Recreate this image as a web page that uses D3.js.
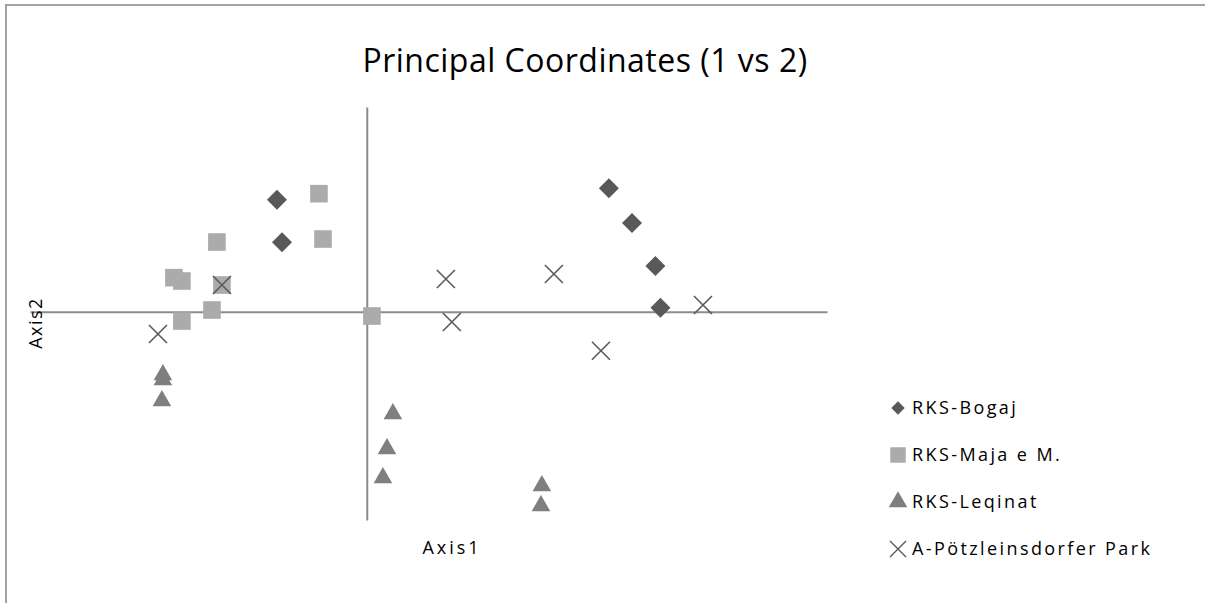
<!DOCTYPE html>
<html>
<head>
<meta charset="utf-8">
<script src="https://cdn.jsdelivr.net/npm/d3@7"></script>
<style>
  body { margin: 0; background: #fff; }
  text { font-family: "Open Sans", "DejaVu Sans", sans-serif; fill: #000; }
</style>
</head>
<body>
<script>
// waarden (as 1, as 2)
var bogajX = [-0.080, -0.0755, 0.2157, 0.2363, 0.2571, 0.2616];
var bogajY = [0.164, 0.102, 0.181, 0.130, 0.067, 0.006];

var majaX = [-0.0426, -0.039, -0.1335, -0.1718, -0.1647, -0.129, -0.1379, -0.1647, 0.0046];
var majaY = [0.173, 0.1066, 0.1022, 0.050, 0.0451, 0.0392, 0.0026, -0.0135, -0.0062];

var leqinatX = [-0.1816, -0.1816, -0.1825, 0.0233, 0.018, 0.0144, 0.156, 0.1552];
var leqinatY = [-0.0924, -0.0997, -0.1304, -0.1494, -0.2007, -0.2432, -0.2549, -0.2842];

var parkX = [-0.186, -0.129, 0.0705, 0.0758, 0.1667, 0.2086, 0.2995];
var parkY = [-0.0326, 0.0392, 0.048, -0.0149, 0.0554, -0.057, 0.01];

var seriesNames = ["RKS-Bogaj", "RKS-Maja e M.", "RKS-Leqinat", "A-Pötzleinsdorfer Park"];

var W = 1205, H = 603;
var margin = { top: 107, right: 378, bottom: 83, left: 30 },
    width = W - margin.left - margin.right,
    height = H - margin.top - margin.bottom;

var svg = d3.select("body").append("svg")
    .attr("width", W)
    .attr("height", H);

// kader rond de grafiek
svg.append("path")
    .attr("d", "M6," + H + "V5H" + W)
    .attr("fill", "none")
    .attr("stroke", "#a3a3a3")
    .attr("stroke-width", 2);

var g = svg.append("g")
    .attr("transform", "translate(" + margin.left + "," + margin.top + ")");

var x = d3.scaleLinear().domain([-0.3, 0.41]).range([0, width]);
var y = d3.scaleLinear().domain([-0.305, 0.3]).range([height, 0]);

// assen door de oorsprong, zonder tick labels
g.append("g")
    .attr("transform", "translate(0," + y(0) + ")")
    .call(d3.axisBottom(x).tickValues([]).tickSizeOuter(0))
    .select(".domain")
    .attr("stroke", "#8c8c8c")
    .attr("stroke-width", 2);

g.append("g")
    .attr("transform", "translate(" + x(0) + ",0)")
    .call(d3.axisLeft(y).tickValues([]).tickSizeOuter(0))
    .select(".domain")
    .attr("stroke", "#8c8c8c")
    .attr("stroke-width", 2);

// symbolen per reeks
var crossPath = function (r) {
    return "M" + (-r) + "," + (-r) + "L" + r + "," + r + "M" + (-r) + "," + r + "L" + r + "," + (-r);
};

var styles = [
    { path: d3.symbol(d3.symbolSquare, 200)(), rotate: 45, fill: "#595959", stroke: "none" },
    { path: d3.symbol(d3.symbolSquare, 310)(), rotate: 0, fill: "#ababab", stroke: "none" },
    { path: d3.symbol(d3.symbolTriangle, 150)(), rotate: 0, fill: "#7f7f7f", stroke: "none" },
    { path: crossPath(9), rotate: 0, fill: "none", stroke: "#595959" }
];

var series = [
    d3.zip(bogajX, bogajY),
    d3.zip(majaX, majaY),
    d3.zip(leqinatX, leqinatY),
    d3.zip(parkX, parkY)
];

series.forEach(function (pts, i) {
    var s = styles[i];
    g.append("g")
        .selectAll("path")
        .data(pts)
        .enter().append("path")
        .attr("d", s.path)
        .attr("transform", function (d) {
            return "translate(" + x(d[0]) + "," + y(d[1]) + ") rotate(" + s.rotate + ")";
        })
        .attr("fill", s.fill)
        .attr("stroke", s.stroke)
        .attr("stroke-width", 1.6);
});

// titel
svg.append("text")
    .attr("x", 585)
    .attr("y", 72)
    .attr("text-anchor", "middle")
    .attr("font-size", 32)
    .attr("letter-spacing", 0.5)
    .text("Principal Coordinates (1 vs 2)");

// as titels
svg.append("text")
    .attr("x", 452)
    .attr("y", 554)
    .attr("text-anchor", "middle")
    .attr("font-size", 18)
    .attr("letter-spacing", 3)
    .text("Axis1");

svg.append("text")
    .attr("transform", "translate(42,323) rotate(-90)")
    .attr("text-anchor", "middle")
    .attr("font-size", 18)
    .attr("letter-spacing", 1.5)
    .text("Axis2");

// legenda
var legenda = svg.append("g")
    .selectAll("g")
    .data(seriesNames)
    .enter().append("g")
    .attr("transform", function (d, i) {
        return "translate(898," + (408 + i * 47) + ")";
    });

legenda.append("path")
    .attr("d", function (d, i) {
        if (i === 0) return d3.symbol(d3.symbolSquare, 90)();
        if (i === 1) return d3.symbol(d3.symbolSquare, 240)();
        if (i === 2) return d3.symbol(d3.symbolTriangle, 150)();
        return crossPath(8);
    })
    .attr("transform", function (d, i) {
        return "rotate(" + styles[i].rotate + ")";
    })
    .attr("fill", function (d, i) { return styles[i].fill; })
    .attr("stroke", function (d, i) { return styles[i].stroke; })
    .attr("stroke-width", 1.4);

legenda.append("text")
    .attr("x", 14)
    .attr("dy", "0.35em")
    .attr("font-size", 18)
    .attr("letter-spacing", 2.4)
    .text(function (d) { return d; });
</script>
</body>
</html>
